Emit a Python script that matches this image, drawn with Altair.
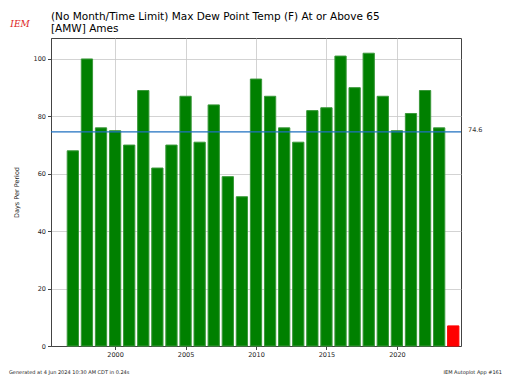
import altair as alt
import pandas as pd

years = list(range(1997, 2025))
days = [68, 100, 76, 75, 70, 89, 62, 70, 87, 71, 84, 59, 52, 93, 87,
        76, 71, 82, 83, 101, 90, 102, 87, 75, 81, 89, 76, 7]
mean_value = 74.6
title_lines = ["(No Month/Time Limit) Max Dew Point Temp (F) At or Above 65", "[AMW] Ames"]
footer_left = "Generated at 4 Jun 2024 10:30 AM CDT in 0.24s"
footer_right = "IEM Autoplot App #161"
x_ticks = [2000, 2005, 2010, 2015, 2020]
y_ticks = [0, 20, 40, 60, 80, 100]

df = pd.DataFrame({"year": years, "days": days})
df["kind"] = ["current" if y == max(years) else "past" for y in years]

W, H = 410, 308
FONT = "DejaVu Sans"

xscale = alt.Scale(domain=[1995.45, 2024.55], nice=False, zero=False)
yscale = alt.Scale(domain=[0, 107.3], nice=False)

bars = alt.Chart(df).transform_calculate(
    x0="datum.year - 0.4", x1="datum.year + 0.4"
).mark_bar(strokeWidth=1).encode(
    x=alt.X("x0:Q", scale=xscale,
            axis=alt.Axis(values=x_ticks, format="d", title=None, grid=True)),
    x2="x1:Q",
    y=alt.Y("days:Q", scale=yscale,
            axis=alt.Axis(values=y_ticks, title="Days Per Period", grid=True)),
    y2=alt.datum(0),
    color=alt.Color("kind:N", scale=alt.Scale(domain=["past", "current"],
                                               range=["#008000", "#ff0000"]), legend=None),
    stroke=alt.Stroke("kind:N", scale=alt.Scale(domain=["past", "current"],
                                                 range=["#3a983a", "#ff0000"]), legend=None),
)

mdf = pd.DataFrame({"mean": [mean_value], "label": [f"{mean_value:.1f}"]})
rule = alt.Chart(mdf).mark_rule(color="#1f70c0", strokeWidth=1.2).encode(
    y=alt.Y("mean:Q", scale=yscale)
)
mlabel = alt.Chart(mdf).mark_text(align="left", baseline="middle", fontSize=6.5,
                                  font=FONT, color="#333", dy=-2).encode(
    x=alt.value(W + 7), y=alt.Y("mean:Q", scale=yscale), text="label:N"
)

tdf = pd.DataFrame({"t1": [title_lines[0]], "t2": [title_lines[1]],
                    "l": [footer_left], "r": [footer_right], "logo": ["IEM"]})
t1 = alt.Chart(tdf).mark_text(align="left", baseline="middle", fontSize=10.5,
                              font=FONT, color="#000").encode(
    x=alt.value(0), y=alt.value(-21), text="t1:N")
t2 = alt.Chart(tdf).mark_text(align="left", baseline="middle", fontSize=10.5,
                              font=FONT, color="#000").encode(
    x=alt.value(0), y=alt.value(-9), text="t2:N")
fleft = alt.Chart(tdf).mark_text(align="left", baseline="middle", fontSize=5,
                                 font=FONT, color="#222").encode(
    x=alt.value(-42), y=alt.value(H + 26), text="l:N")
fright = alt.Chart(tdf).mark_text(align="right", baseline="middle", fontSize=5,
                                  font=FONT, color="#222").encode(
    x=alt.value(W + 41), y=alt.value(H + 26), text="r:N")
logo = alt.Chart(tdf).mark_text(align="center", baseline="middle", fontSize=9,
                                font="DejaVu Serif", fontStyle="italic",
                                color="#d22").encode(
    x=alt.value(-31), y=alt.value(-14), text="logo:N")

chart = alt.layer(bars, rule, mlabel, t1, t2, fleft, fright, logo).properties(
    width=W, height=H,
    autosize=alt.AutoSizeParams(type="none"),
    padding={"left": 43, "top": 30, "right": 43, "bottom": 30},
).configure_view(stroke="#444", strokeWidth=1).configure_axis(
    labelFont=FONT, labelFontSize=6.5, labelColor="#222",
    titleFont=FONT, titleFontSize=6.5, titleFontWeight="normal", titleColor="#222",
    domainColor="#444", tickColor="#444", tickSize=3.5,
    gridColor="#c8c8c8", gridWidth=0.8, labelPadding=2,
).configure_axisY(titlePadding=14)

chart.save("out.html", embed_options={"renderer": "svg", "actions": False})
